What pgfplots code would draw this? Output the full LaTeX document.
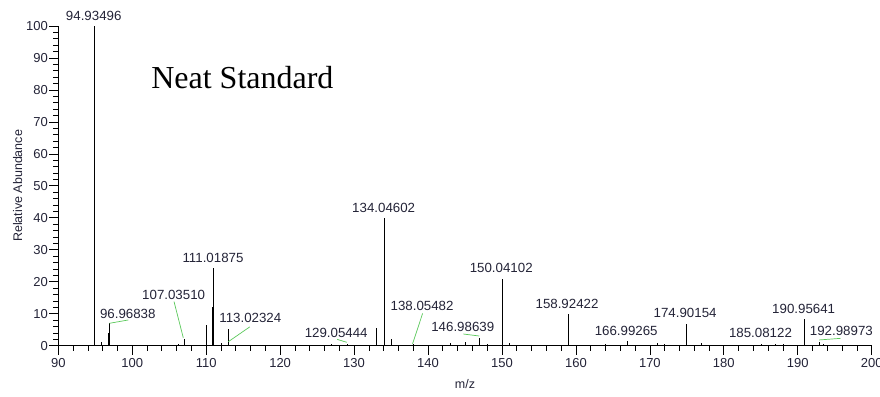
\documentclass[border=0pt]{standalone}
\usepackage{pgfplots}
\pgfplotsset{compat=1.18}
\usepackage{fontspec}
\setmainfont{Liberation Sans}
\newfontfamily\seriffont{Liberation Serif}
\definecolor{leader}{RGB}{90,200,90}
\definecolor{txt}{RGB}{35,35,55}
\pgfplotstableread{
x y
94.935 100
95.8 1.1
96.8 4
96.968 7
106.3 0.5
107.035 2.2
110.0 6.5
110.9 12.2
111.019 24.2
112.0 1.0
113.023 5.2
127.0 0.6
129.054 0.5
133.05 5.4
134.046 40
135.05 2.1
138.055 0.4
143.0 0.8
145.0 1.2
146.986 2.5
148.0 0.5
150.041 20.8
151.0 0.8
158.924 9.8
164.0 0.5
166.993 1.5
171.0 0.7
172.0 0.4
174.902 6.8
175.0 3.5
177.0 1.0
185.081 0.5
187.0 0.6
188.0 0.5
190.9 4.0
190.956 8.2
192.99 1.3
193.5 0.6
}\peaks
\begin{document}
\begin{tikzpicture}
\path[use as bounding box] (0,0) rectangle (880pt,396pt);
\begin{axis}[
  at={(58.3pt,50.3pt)}, anchor=south west,
  scale only axis, width=813.4pt, height=319.7pt,
  xmin=90, xmax=200, ymin=0, ymax=100,
  axis lines*=left,
  axis line style={black, line width=0.8pt},
  x axis line style={line width=1.4pt},
  xtick={90,100,...,200}, ytick={0,10,...,100},
  minor x tick num=4, minor y tick num=4,
  tick align=outside,
  major tick length=9pt, minor tick length=5pt,
  tick style={black, line width=0.7pt},
  /pgf/number format/assume math mode=true,
  tick label style={font=\fontsize{13}{15}\selectfont, text=txt},
  yticklabel style={xshift=2pt},
  xlabel={m/z}, ylabel={Relative Abundance},
  label style={font=\fontsize{12.5}{14}\selectfont, text=txt},
  xlabel style={yshift=-5pt},
  ylabel style={yshift=-3pt},
  clip=false,
]
\addplot[ycomb, black, line width=0.9pt, mark=none] table {\peaks};
% leader lines
\addplot[leader, line width=0.7pt] coordinates {(96.9,7.0) (99.47,8.05)};
\addplot[leader, line width=0.7pt] coordinates {(106.9,2.5) (105.65,13.8)};
\addplot[leader, line width=0.7pt] coordinates {(112.99,1.25) (115.9,5.9)};
\addplot[leader, line width=0.7pt] coordinates {(127.7,2.0) (129.0,1.06)};
\addplot[leader, line width=0.7pt] coordinates {(137.9,0.5) (139.27,10.1)};
\addplot[leader, line width=0.7pt] coordinates {(144.77,3.66) (146.93,3.03)};
\addplot[leader, line width=0.7pt] coordinates {(192.9,1.8) (195.8,2.3)};
% labels
\begin{scope}[every node/.style={font=\fontsize{13.3}{15}\selectfont, text=txt, inner sep=0pt}]
\node at (axis cs:94.79,103.1) {94.93496};
\node at (axis cs:99.4,9.9) {96.96838};
\node at (axis cs:105.6,16.0) {107.03510};
\node at (axis cs:110.92,27.3) {111.01875};
\node at (axis cs:115.97,8.6) {113.02324};
\node at (axis cs:127.58,3.9) {129.05444};
\node at (axis cs:134.0,43.2) {134.04602};
\node at (axis cs:139.2,12.4) {138.05482};
\node at (axis cs:144.7,5.75) {146.98639};
\node at (axis cs:149.9,24.2) {150.04102};
\node at (axis cs:158.8,13.0) {158.92422};
\node at (axis cs:166.8,4.7) {166.99265};
\node at (axis cs:174.77,10.1) {174.90154};
\node at (axis cs:184.96,4.1) {185.08122};
\node at (axis cs:190.8,11.4) {190.95641};
\node at (axis cs:195.9,4.6) {192.98973};
\end{scope}
\node[font=\seriffont\fontsize{32}{36}\selectfont, inner sep=0pt] at (axis cs:114.9,84.0) {Neat Standard};
\end{axis}
\end{tikzpicture}
\end{document}
